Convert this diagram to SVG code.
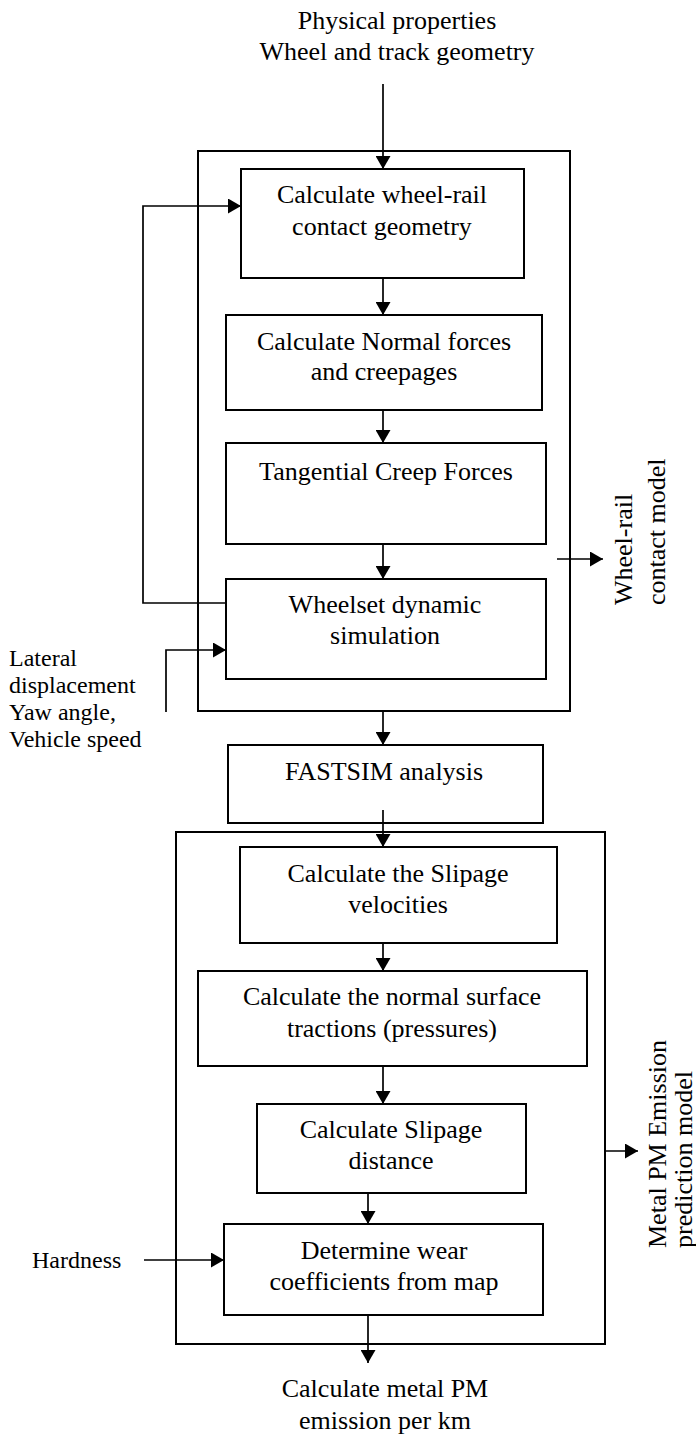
<svg xmlns="http://www.w3.org/2000/svg" width="696" height="1436" viewBox="0 0 696 1436">
<style>
  .box { fill: none; stroke: #000; stroke-width: 2; }
  .ln { fill: none; stroke: #000; stroke-width: 1.7; }
  text { font-family: "Liberation Serif", "Times New Roman", serif; font-size: 26px; fill: #000; }
  .c { text-anchor: middle; }
  .side { font-size: 24px; }
</style>
<defs>
  <marker id="ah" markerUnits="userSpaceOnUse" markerWidth="14" markerHeight="15" refX="13" refY="7.5" orient="auto">
    <path d="M0,0 L13,7.5 L0,15 z" fill="#000"/>
  </marker>
</defs>
<rect width="696" height="1436" fill="#fff"/>

<g id="input-top">
  <text class="c" x="397" y="29">Physical properties</text>
  <text class="c" x="397" y="60">Wheel and track geometry</text>
</g>

<g id="wheel-rail-model">
  <rect class="box" x="198" y="151" width="372" height="560"/>
  <text transform="translate(632,605) rotate(-90)">Wheel-rail</text>
  <text transform="translate(665,605) rotate(-90)">contact model</text>
</g>

<g id="contact-geometry">
  <rect class="box" x="241" y="169" width="283" height="109"/>
  <text class="c" x="382" y="203">Calculate wheel-rail</text>
  <text class="c" x="382" y="235">contact geometry</text>
</g>

<g id="normal-forces">
  <rect class="box" x="226" y="315" width="316" height="95"/>
  <text class="c" x="384" y="350">Calculate Normal forces</text>
  <text class="c" x="384" y="380">and creepages</text>
</g>

<g id="creep-forces">
  <rect class="box" x="226" y="443" width="320" height="101"/>
  <text class="c" x="386" y="480">Tangential Creep Forces</text>
</g>

<g id="wheelset">
  <rect class="box" x="226" y="579" width="320" height="100"/>
  <text class="c" x="385" y="613">Wheelset dynamic</text>
  <text class="c" x="385" y="644">simulation</text>
</g>

<g id="lateral-input">
  <text class="side" x="9" y="666">Lateral</text>
  <text class="side" x="9" y="693">displacement</text>
  <text class="side" x="9" y="720">Yaw angle,</text>
  <text class="side" x="9" y="747">Vehicle speed</text>
</g>

<g id="fastsim">
  <rect class="box" x="228" y="745" width="315" height="78"/>
  <text class="c" x="384" y="780">FASTSIM analysis</text>
</g>

<g id="pm-model">
  <rect class="box" x="176" y="832" width="429" height="512"/>
  <text transform="translate(666,1248) rotate(-90)">Metal PM Emission</text>
  <text transform="translate(692,1248) rotate(-90)">prediction model</text>
</g>

<g id="slip-velocities">
  <rect class="box" x="240" y="847" width="317" height="96"/>
  <text class="c" x="398" y="882">Calculate the Slipage</text>
  <text class="c" x="398" y="913">velocities</text>
</g>

<g id="surface-tractions">
  <rect class="box" x="198" y="971" width="389" height="95"/>
  <text class="c" x="392" y="1005">Calculate the normal surface</text>
  <text class="c" x="392" y="1037">tractions (pressures)</text>
</g>

<g id="slip-distance">
  <rect class="box" x="257" y="1104" width="269" height="89"/>
  <text class="c" x="391" y="1138">Calculate Slipage</text>
  <text class="c" x="391" y="1169">distance</text>
</g>

<g id="wear-coefficients">
  <rect class="box" x="224" y="1224" width="319" height="91"/>
  <text class="c" x="384" y="1259">Determine wear</text>
  <text class="c" x="384" y="1290">coefficients from map</text>
</g>

<g id="hardness-input">
  <text class="side" x="32" y="1268">Hardness</text>
</g>

<g id="output">
  <text class="c" x="385" y="1397">Calculate metal PM</text>
  <text class="c" x="385" y="1429">emission per km</text>
</g>

<g id="connectors">
  <path class="ln" d="M383,84 V169" marker-end="url(#ah)"/>
  <path class="ln" d="M383,278 V315" marker-end="url(#ah)"/>
  <path class="ln" d="M383,410 V443" marker-end="url(#ah)"/>
  <path class="ln" d="M383,544 V579" marker-end="url(#ah)"/>
  <path class="ln" d="M383,711 V745" marker-end="url(#ah)"/>
  <path class="ln" d="M383,810 V847" marker-end="url(#ah)"/>
  <path class="ln" d="M383,943 V971" marker-end="url(#ah)"/>
  <path class="ln" d="M383,1066 V1104" marker-end="url(#ah)"/>
  <path class="ln" d="M368,1193 V1224" marker-end="url(#ah)"/>
  <path class="ln" d="M368,1315 V1363" marker-end="url(#ah)"/>
  <path class="ln" d="M226,603 H143 V206 H241" marker-end="url(#ah)"/>
  <path class="ln" d="M166,712 V650 H226" marker-end="url(#ah)"/>
  <path class="ln" d="M557,559 H603" marker-end="url(#ah)"/>
  <path class="ln" d="M605,1151 H638" marker-end="url(#ah)"/>
  <path class="ln" d="M144,1260 H224" marker-end="url(#ah)"/>
</g>
</svg>
